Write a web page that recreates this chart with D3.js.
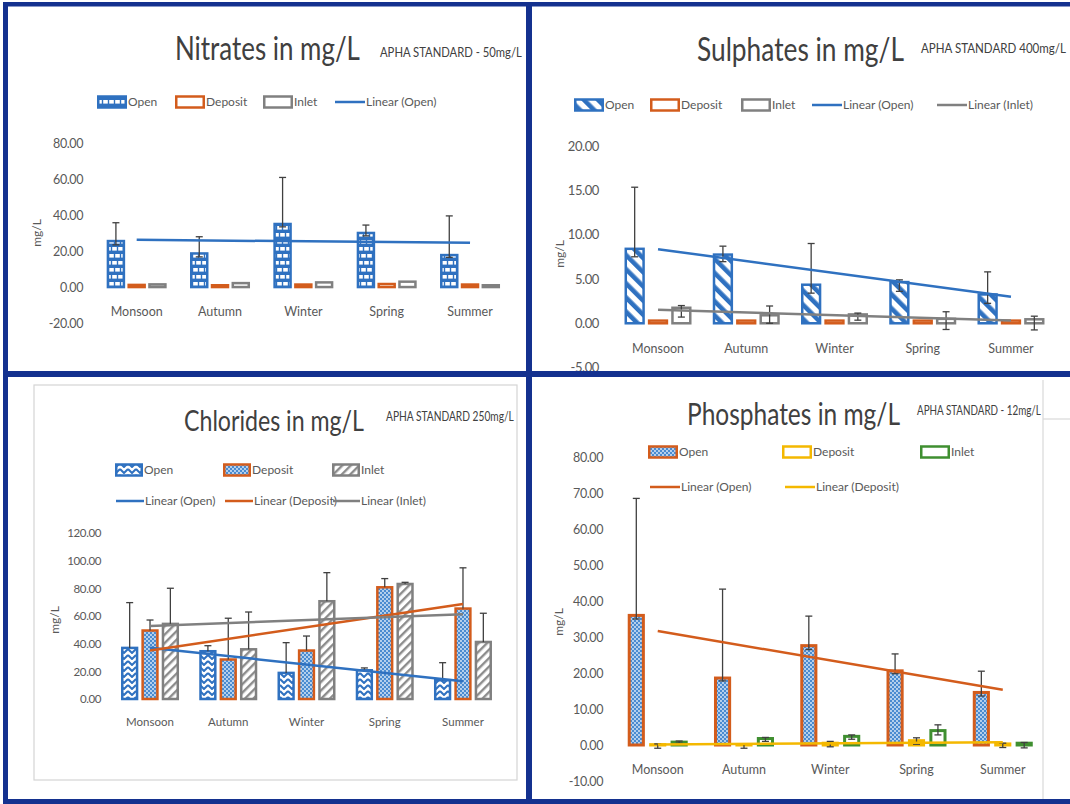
<!DOCTYPE html>
<html>
<head>
<meta charset="utf-8">
<script src="https://cdn.jsdelivr.net/npm/d3@7"></script>
<style>
  html, body { margin: 0; padding: 0; background: #fff; }
  svg { display: block; }
</style>
</head>
<body>
<svg id="chart" width="1070" height="804"></svg>
<script>
// ---- categories ----
const seasons = ["Monsoon", "Autumn", "Winter", "Spring", "Summer"];

// ---- Nitrates (mg/L) ----
const nitrateOpen      = [25.6, 18.7, 35.1, 30.1, 17.8];
const nitrateOpenHi    = [35.8, 28.0, 61.0, 34.5, 39.6];
const nitrateOpenLo    = [23.5, 16.8, 33.5, 28.5, 16.5];
const nitrateDeposit   = [1.2, 1.0, 1.4, 1.7, 1.4];
const nitrateInlet     = [1.5, 2.2, 2.6, 3.0, 1.0];
const nitrateTicks     = [-20, 0, 20, 40, 60, 80];

// ---- Sulphates (mg/L) ----
const sulphateOpen     = [8.4, 7.75, 4.35, 4.65, 3.25];
const sulphateOpenHi   = [15.35, 8.7, 9.0, 4.9, 5.8];
const sulphateOpenLo   = [7.5, 6.95, 3.4, 3.6, 2.25];
const sulphateDeposit  = [0.3, 0.3, 0.3, 0.3, 0.3];
const sulphateInlet    = [1.75, 0.9, 1.0, 0.5, 0.45];
const sulphateInletHi  = [2.0, 1.95, 1.15, 1.3, 0.8];
const sulphateInletLo  = [0.7, 0.0, 0.35, -0.7, -0.75];
const sulphateTicks    = [-5, 0, 5, 10, 15, 20];

// ---- Chlorides (mg/L) ----
const chlorideOpen       = [37.0, 34.6, 18.9, 20.8, 13.6];
const chlorideOpenHi     = [69.8, 38.6, 40.8, 22.5, 26.3];
const chlorideDeposit    = [49.6, 28.6, 35.1, 80.9, 65.5];
const chlorideDepositHi  = [57.2, 58.5, 45.6, 87.2, 95.0];
const chlorideInlet      = [54.4, 36.0, 70.8, 83.3, 41.3];
const chlorideInletHi    = [80.2, 63.0, 91.5, 84.5, 62.1];
const chlorideTicks      = [0, 20, 40, 60, 80, 100, 120];

// ---- Phosphates (mg/L) ----
const phosphateOpen       = [36.0, 18.6, 27.6, 20.6, 14.6];
const phosphateOpenHi     = [68.5, 43.3, 35.8, 25.3, 20.5];
const phosphateOpenLo     = [35.0, 17.8, 26.5, 19.8, 13.6];
const phosphateDeposit    = [0.1, 0.1, 0.5, 1.2, 0.3];
const phosphateDepositHi  = [0.3, 0.2, 1.0, 2.0, 0.5];
const phosphateDepositLo  = [-0.9, -0.9, -0.5, 0.2, -0.7];
const phosphateInlet      = [0.8, 1.8, 2.4, 4.0, 0.5];
const phosphateInletHi    = [1.1, 2.1, 2.8, 5.6, 0.7];
const phosphateInletLo    = [0.5, 1.0, 1.6, 2.8, -0.8];
const phosphateTicks      = [-10, 0, 10, 20, 30, 40, 50, 60, 70, 80];

// ---- styling ----
const BLUE = "#2f71c0", ORANGE = "#d35c1c", GRAY = "#808080",
      YELLOW = "#f4b800", GREEN = "#3f8f30", NAVY = "#14318f",
      TEXT = "#595959", TITLE = "#404040", ERR = "#404040";
const FONT = "Lato, 'Open Sans', sans-serif";

const fmt = d3.formatLocale({ decimal: ".", thousands: ",", grouping: [3], currency: ["", ""], minus: "-" }).format(".2f");

const svg = d3.select("#chart");
svg.append("rect").attr("width", 1070).attr("height", 804).attr("fill", "#fff");

// ---- fill patterns ----
const defs = svg.append("defs");

// brick pattern (blue with white bricks)
const brick = defs.append("pattern").attr("id", "brick").attr("patternUnits", "userSpaceOnUse")
  .attr("width", 12).attr("height", 14);
brick.append("rect").attr("width", 12).attr("height", 14).attr("fill", BLUE);
[[1.2, 2], [7.2, 2], [-1.8, 9], [4.2, 9], [10.2, 9]].forEach(([bx, by]) =>
  brick.append("rect").attr("x", bx).attr("y", by).attr("width", 4.6).attr("height", 3.6).attr("fill", "#fff"));

// wide downward diagonal stripes
const diagDown = defs.append("pattern").attr("id", "diagDown").attr("patternUnits", "userSpaceOnUse")
  .attr("width", 10).attr("height", 10).attr("patternTransform", "rotate(-45)");
diagDown.append("rect").attr("width", 10).attr("height", 10).attr("fill", "#fff");
diagDown.append("rect").attr("width", 4.6).attr("height", 10).attr("fill", BLUE);

// zigzag pattern
const zig = defs.append("pattern").attr("id", "zigzag").attr("patternUnits", "userSpaceOnUse")
  .attr("width", 8).attr("height", 6);
zig.append("rect").attr("width", 8).attr("height", 6).attr("fill", "#fff");
zig.append("path").attr("d", "M0,1 L4,5 L8,1").attr("fill", "none").attr("stroke", BLUE).attr("stroke-width", 2);

// dotted pattern (blue with white dots)
const dots = defs.append("pattern").attr("id", "dots").attr("patternUnits", "userSpaceOnUse")
  .attr("width", 4).attr("height", 4);
dots.append("rect").attr("width", 4).attr("height", 4).attr("fill", "#4a8bd0");
[[1, 1], [3, 3]].forEach(([cx, cy]) =>
  dots.append("circle").attr("cx", cx).attr("cy", cy).attr("r", 0.9).attr("fill", "#e6f0fa"));

// wide upward diagonal stripes (gray)
const diagUp = defs.append("pattern").attr("id", "diagUp").attr("patternUnits", "userSpaceOnUse")
  .attr("width", 6).attr("height", 6).attr("patternTransform", "rotate(45)");
diagUp.append("rect").attr("width", 6).attr("height", 6).attr("fill", "#fff");
diagUp.append("rect").attr("width", 2.4).attr("height", 6).attr("fill", "#8c8c8c");

// ---- panel definitions ----
const panels = [
  {
    title: "Nitrates in mg/L", titleX: 175, titleY: 60, titleW: 185, titleSize: 32,
    note: "APHA STANDARD - 50mg/L", noteX: 380, noteY: 57, noteW: 142, noteSize: 13.5,
    xRange: [95, 511.7], group: [-30, 30], pad: 0.11, barStroke: 2.5,
    yDomain: [-20, 80], yRange: [323, 143.3], ticks: nitrateTicks, tickX: 83, tickSize: 12.5,
    catY: 311.5, catSize: 12.5, unitX: 37, unitY: 233,
    series: [
      { name: "Open", values: nitrateOpen, hi: nitrateOpenHi, lo: nitrateOpenLo, fill: "url(#brick)", stroke: BLUE, trend: BLUE },
      { name: "Deposit", values: nitrateDeposit, fill: "#fff", stroke: ORANGE },
      { name: "Inlet", values: nitrateInlet, fill: "#fff", stroke: GRAY }
    ],
    legend: [
      { kind: "bar", s: 0, x: 97, y: 102 }, { kind: "bar", s: 1, x: 175, y: 102 },
      { kind: "bar", s: 2, x: 263, y: 102 }, { kind: "line", s: 0, x: 335, y: 102 }
    ]
  },
  {
    title: "Sulphates in mg/L", titleX: 697, titleY: 61, titleW: 207, titleSize: 33,
    note: "APHA STANDARD 400mg/L", noteX: 921, noteY: 53, noteW: 145, noteSize: 14,
    xRange: [613.9, 1055.1], group: [-33.5, 33.5], pad: 0.13, barStroke: 2.5,
    yDomain: [-5, 20], yRange: [367.6, 146], ticks: sulphateTicks, tickX: 599, tickSize: 13,
    catY: 348.5, catSize: 12.5, unitX: 560, unitY: 254,
    series: [
      { name: "Open", values: sulphateOpen, hi: sulphateOpenHi, lo: sulphateOpenLo, fill: "url(#diagDown)", stroke: BLUE, trend: BLUE },
      { name: "Deposit", values: sulphateDeposit, fill: "#fff", stroke: ORANGE },
      { name: "Inlet", values: sulphateInlet, hi: sulphateInletHi, lo: sulphateInletLo, fill: "#fff", stroke: GRAY, trend: GRAY }
    ],
    legend: [
      { kind: "bar", s: 0, x: 574, y: 105 }, { kind: "bar", s: 1, x: 650, y: 105 },
      { kind: "bar", s: 2, x: 741, y: 105 }, { kind: "line", s: 0, x: 812, y: 105 },
      { kind: "line", s: 2, x: 937, y: 105 }
    ]
  },
  {
    title: "Chlorides in mg/L", titleX: 184, titleY: 431, titleW: 180, titleSize: 29,
    note: "APHA STANDARD 250mg/L", noteX: 386, noteY: 421, noteW: 128, noteSize: 12.5,
    xRange: [110.9, 502.1], group: [-29, 29], pad: 0.15, barStroke: 2.5,
    yDomain: [0, 120], yRange: [699, 533.3], ticks: chlorideTicks, tickX: 101, tickSize: 11.5,
    catY: 722, catSize: 11.5, unitX: 55, unitY: 620,
    series: [
      { name: "Open", values: chlorideOpen, hi: chlorideOpenHi, fill: "url(#zigzag)", stroke: BLUE, trend: BLUE },
      { name: "Deposit", values: chlorideDeposit, hi: chlorideDepositHi, fill: "url(#dots)", stroke: ORANGE, trend: ORANGE },
      { name: "Inlet", values: chlorideInlet, hi: chlorideInletHi, fill: "url(#diagUp)", stroke: GRAY, trend: GRAY }
    ],
    legend: [
      { kind: "bar", s: 0, x: 115, y: 470, w: 28 }, { kind: "bar", s: 1, x: 223, y: 470, w: 28 },
      { kind: "bar", s: 2, x: 332, y: 470, w: 28 },
      { kind: "line", s: 0, x: 116, y: 501, w: 28 }, { kind: "line", s: 1, x: 225, y: 501, w: 28 },
      { kind: "line", s: 2, x: 333, y: 501, w: 27 }
    ]
  },
  {
    title: "Phosphates in mg/L", titleX: 687, titleY: 425, titleW: 213, titleSize: 30,
    note: "APHA STANDARD - 12mg/L", noteX: 917, noteY: 415, noteW: 124, noteSize: 13,
    xRange: [614.6, 1045.9], group: [-30, 30], pad: 0.2, barStroke: 3,
    yDomain: [-10, 80], yRange: [781, 457], ticks: phosphateTicks, tickX: 603, tickSize: 12.5,
    catY: 770, catSize: 12.5, unitX: 559, unitY: 622,
    series: [
      { name: "Open", values: phosphateOpen, hi: phosphateOpenHi, lo: phosphateOpenLo, fill: "url(#dots)", stroke: ORANGE, trend: ORANGE },
      { name: "Deposit", values: phosphateDeposit, hi: phosphateDepositHi, lo: phosphateDepositLo, fill: "#fff", stroke: YELLOW, trend: YELLOW },
      { name: "Inlet", values: phosphateInlet, hi: phosphateInletHi, lo: phosphateInletLo, fill: "#fff", stroke: GREEN }
    ],
    legend: [
      { kind: "bar", s: 0, x: 648, y: 452 }, { kind: "bar", s: 1, x: 782, y: 452 },
      { kind: "bar", s: 2, x: 920, y: 452 },
      { kind: "line", s: 0, x: 650, y: 487 }, { kind: "line", s: 1, x: 785, y: 487 }
    ]
  }
];

// least-squares line over category index
function linearFit(vals) {
  const n = vals.length, xm = (n - 1) / 2, ym = d3.mean(vals);
  let num = 0, den = 0;
  vals.forEach((v, i) => { num += (i - xm) * (v - ym); den += (i - xm) ** 2; });
  const slope = num / den;
  return i => ym + slope * (i - xm);
}

// text narrowed horizontally to a given width (condensed heading look)
function fittedText(g, str, x, y, size, width, color) {
  const t = g.append("text").attr("x", 0).attr("y", 0)
    .attr("font-size", size).attr("fill", color).text(str);
  const natural = t.node().getComputedTextLength();
  const k = Math.min(1, width / natural);
  t.attr("transform", `translate(${x},${y}) scale(${k},1)`);
  return t;
}

function drawPanel(p) {
  const g = svg.append("g").attr("font-family", FONT);

  const x = d3.scaleBand().domain(seasons).range(p.xRange);
  const xs = d3.scaleBand().domain(p.series.map(s => s.name)).range(p.group).paddingInner(p.pad);
  const y = d3.scaleLinear().domain(p.yDomain).range(p.yRange);
  const cx = d => x(d) + x.bandwidth() / 2;

  // title and standard note
  fittedText(g, p.title, p.titleX, p.titleY, p.titleSize, p.titleW, TITLE);
  fittedText(g, p.note, p.noteX, p.noteY, p.noteSize, p.noteW, TITLE);

  // y axis labels
  const yAxis = g.append("g").attr("transform", `translate(${p.tickX},0)`)
    .call(d3.axisLeft(y).tickValues(p.ticks).tickFormat(fmt).tickSize(0).tickPadding(0));
  yAxis.select(".domain").remove();
  yAxis.attr("font-family", FONT).attr("font-size", p.tickSize);
  yAxis.selectAll("text").attr("fill", TEXT).attr("letter-spacing", -0.4);

  // category labels
  const xAxis = g.append("g").attr("transform", `translate(0,${p.catY})`)
    .call(d3.axisBottom(x).tickSize(0).tickPadding(0));
  xAxis.select(".domain").remove();
  xAxis.attr("font-family", FONT).attr("font-size", p.catSize);
  xAxis.selectAll("text").attr("fill", TEXT).attr("y", 0).attr("dy", "0.35em");

  // unit label
  g.append("text").attr("transform", `translate(${p.unitX},${p.unitY}) rotate(-90)`)
    .attr("text-anchor", "middle").attr("dy", "0.35em")
    .attr("font-size", 12).attr("fill", TEXT).text("mg/L");

  // bars
  const sw = p.barStroke;
  p.series.forEach(s => {
    g.append("g").selectAll("rect").data(seasons).join("rect")
      .attr("x", (d) => cx(d) + xs(s.name) + sw / 2)
      .attr("width", xs.bandwidth() - sw)
      .attr("y", (d, i) => y(Math.max(s.values[i], 0)))
      .attr("height", (d, i) => Math.abs(y(s.values[i]) - y(0)))
      .attr("fill", s.fill).attr("stroke", s.stroke).attr("stroke-width", sw);
  });

  // error bars
  p.series.forEach(s => {
    if (!s.hi) return;
    const eg = g.append("g").attr("stroke", ERR).attr("stroke-width", 1.3);
    seasons.forEach((d, i) => {
      const bx = cx(d) + xs(s.name) + xs.bandwidth() / 2;
      const low = s.lo ? s.lo[i] : s.values[i];
      eg.append("line").attr("x1", bx).attr("x2", bx).attr("y1", y(low)).attr("y2", y(s.hi[i]));
      eg.append("line").attr("x1", bx - 3.5).attr("x2", bx + 3.5).attr("y1", y(s.hi[i])).attr("y2", y(s.hi[i]));
      if (s.lo) eg.append("line").attr("x1", bx - 3.5).attr("x2", bx + 3.5).attr("y1", y(low)).attr("y2", y(low));
    });
  });

  // linear trend lines
  p.series.forEach(s => {
    if (!s.trend) return;
    const f = linearFit(s.values);
    g.append("line")
      .attr("x1", cx(seasons[0])).attr("y1", y(f(0)))
      .attr("x2", cx(seasons[seasons.length - 1])).attr("y2", y(f(seasons.length - 1)))
      .attr("stroke", s.trend).attr("stroke-width", 2.5);
  });

  // legend
  p.legend.forEach(item => {
    const s = p.series[item.s];
    const w = item.w || 30;
    if (item.kind === "bar") {
      g.append("rect").attr("x", item.x + 1.25).attr("y", item.y - 5.5)
        .attr("width", w - 2.5).attr("height", 11)
        .attr("fill", s.fill).attr("stroke", s.stroke).attr("stroke-width", 2.5);
      g.append("text").attr("x", item.x + w + 1).attr("y", item.y).attr("dy", "0.35em")
        .attr("font-size", 12).attr("fill", TEXT).text(s.name);
    } else {
      g.append("line").attr("x1", item.x).attr("x2", item.x + w).attr("y1", item.y).attr("y2", item.y)
        .attr("stroke", s.trend).attr("stroke-width", 2.5);
      g.append("text").attr("x", item.x + w + 1).attr("y", item.y).attr("dy", "0.35em")
        .attr("font-size", 12).attr("fill", TEXT).text(`Linear (${s.name})`);
    }
  });
}

// light chart-area borders
svg.append("rect").attr("x", 34).attr("y", 385).attr("width", 483).attr("height", 395)
  .attr("fill", "none").attr("stroke", "#d4d4d4").attr("stroke-width", 1.2);
svg.append("line").attr("x1", 1043).attr("x2", 1043).attr("y1", 380).attr("y2", 799)
  .attr("stroke", "#d9d9d9").attr("stroke-width", 1.2);
svg.append("line").attr("x1", 1043).attr("x2", 1070).attr("y1", 419).attr("y2", 419)
  .attr("stroke", "#d9d9d9").attr("stroke-width", 1.2);

panels.forEach(drawPanel);

// navy frame between the four charts
const frame = svg.append("g").attr("fill", NAVY);
frame.append("rect").attr("x", 3).attr("y", 2).attr("width", 5).attr("height", 802);
frame.append("rect").attr("x", 3).attr("y", 2).attr("width", 1067).attr("height", 4.5);
frame.append("rect").attr("x", 526).attr("y", 2).attr("width", 6).attr("height", 802);
frame.append("rect").attr("x", 3).attr("y", 371).attr("width", 1067).attr("height", 6);
frame.append("rect").attr("x", 3).attr("y", 799).attr("width", 1067).attr("height", 5);
</script>
</body>
</html>
